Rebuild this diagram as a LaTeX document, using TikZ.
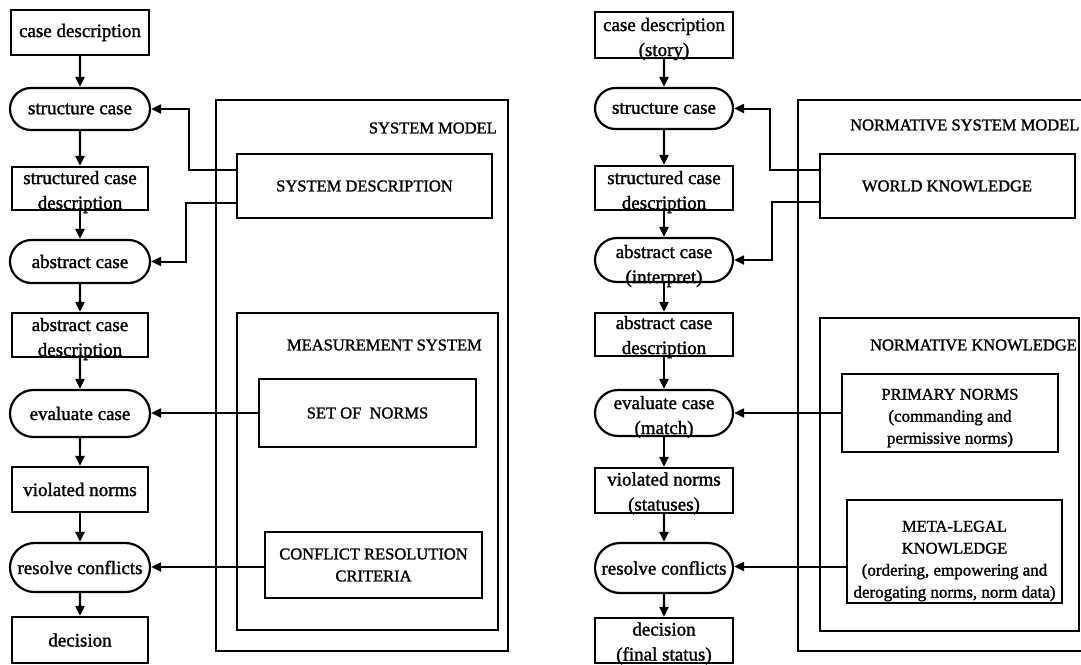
\documentclass[tikz,border=0pt]{standalone}
\usepackage{fontspec}
\setmainfont{Liberation Serif}[FakeBold=1.4]
\usetikzlibrary{shapes.misc,arrows.meta}
\tikzset{
  box/.style={draw,line width=2.2pt,rectangle,inner sep=0pt,align=center,font=\fontsize{19}{25}\selectfont},
  rbox/.style={draw,line width=2.2pt,rounded rectangle,inner sep=0pt,align=center,font=\fontsize{19}{25}\selectfont},
  ftxt/.style={inner sep=0pt,align=center,font=\fontsize{19}{25}\selectfont},
  kbox/.style={draw,line width=2pt,rectangle,inner sep=0pt,align=center,font=\fontsize{16.5}{22}\selectfont},
  frame/.style={draw,line width=1.8pt,rectangle,inner sep=0pt},
  title/.style={inner sep=0pt,font=\fontsize{16.5}{20}\selectfont},
  flow/.style={line width=2.2pt,-{Triangle[length=10pt,width=9pt]}},
  conn/.style={line width=2pt,-{Triangle[length=10pt,width=9pt]}},
}
\newcommand{\subfs}{\fontsize{17}{22}\selectfont}
\begin{document}
\begin{tikzpicture}[x=1pt,y=-1pt]
\useasboundingbox (0,0) rectangle (1081,664);
\clip (0,0) rectangle (1081,664);
% ---------------- left diagram ----------------
\node[box,minimum width=138pt,minimum height=45pt] (cd1) at (80,32.5) {case description};
\node[rbox,minimum width=140pt,minimum height=42pt] (sc1) at (80,109) {structure case};
\node[box,minimum width=136pt,minimum height=43pt] (scd1) at (80,188.5) {};
\node[ftxt] (scd1t) at ([yshift=-3.5pt]scd1.center) {structured case\\description};
\node[rbox,minimum width=140pt,minimum height=43pt] (ac1) at (80,261.5) {abstract case};
\node[box,minimum width=136pt,minimum height=44pt] (acd1) at (80,335) {};
\node[ftxt] (acd1t) at ([yshift=-4pt]acd1.center) {abstract case\\description};
\node[rbox,minimum width=140pt,minimum height=47pt] (ev1) at (80,413.5) {evaluate case};
\node[box,minimum width=136pt,minimum height=45pt] (vn1) at (80,489.5) {violated norms};
\node[rbox,minimum width=140pt,minimum height=49pt] (rc1) at (80,567.5) {resolve conflicts};
\node[box,minimum width=136pt,minimum height=46pt] (dec1) at (80,640) {decision};

\node[frame,minimum width=292pt,minimum height=551pt] (sm) at (362,375.5) {};
\node[title,anchor=east] (smt) at (497,128) {SYSTEM MODEL};
\node[kbox,minimum width=255pt,minimum height=64pt] (sd) at (364.5,186) {SYSTEM DESCRIPTION};
\node[frame,minimum width=261pt,minimum height=317pt] (ms) at (367.5,471.5) {};
\node[title,anchor=east] (mst) at (482,345) {MEASUREMENT SYSTEM};
\node[kbox,minimum width=217pt,minimum height=68pt] (sn) at (367.5,413) {SET OF\ \ NORMS};
\node[kbox,minimum width=217pt,minimum height=66pt] (crc) at (373.5,565) {CONFLICT RESOLUTION\\CRITERIA};

\draw[flow] (cd1) -- (sc1);
\draw[flow] (sc1) -- (scd1);
\draw[flow] (scd1) -- (ac1);
\draw[flow] (ac1) -- (acd1);
\draw[flow] (acd1) -- (ev1);
\draw[flow] (ev1) -- (vn1);
\draw[flow] (vn1) -- (rc1);
\draw[flow] (rc1) -- (dec1);

\draw[conn] ([yshift=16pt]sd.west) -- ++(-47,0) |- (sc1.east);
\draw[conn] ([yshift=-17pt]sd.west) -- ++(-50,0) |- (ac1.east);
\draw[conn] (sn.west) -- (sn.west -| ev1.east);
\draw[conn] ([yshift=-2pt]crc.west) -- ([yshift=-2pt]crc.west -| rc1.east);

% ---------------- right diagram ----------------
\node[box,minimum width=138pt,minimum height=46pt] (cd2) at (664,35) {};
\node[ftxt] (cd2t) at ([yshift=-4pt]cd2.center) {case description\\(story)};
\node[rbox,minimum width=138pt,minimum height=41pt] (sc2) at (664,108.5) {structure case};
\node[box,minimum width=138pt,minimum height=44pt] (scd2) at (664,188) {};
\node[ftxt] (scd2t) at ([yshift=-4pt]scd2.center) {structured case\\description};
\node[rbox,minimum width=138pt,minimum height=44pt] (ac2) at (664,260) {};
\node[ftxt] (ac2t) at ([yshift=-6pt]ac2.center) {abstract case\\(interpret)};
\node[box,minimum width=138pt,minimum height=43pt] (acd2) at (664,334.5) {};
\node[ftxt] (acd2t) at ([yshift=-2.5pt]acd2.center) {abstract case\\description};
\node[rbox,minimum width=138pt,minimum height=46pt] (ev2) at (664,413) {};
\node[ftxt] (ev2t) at ([yshift=-4pt]ev2.center) {evaluate case\\(match)};
\node[box,minimum width=138pt,minimum height=45pt] (vn2) at (664,490.5) {};
\node[ftxt] (vn2t) at ([yshift=-3pt]vn2.center) {violated norms\\(statuses)};
\node[rbox,minimum width=138pt,minimum height=50pt] (rc2) at (664,568) {resolve conflicts};
\node[box,minimum width=138pt,minimum height=45pt] (dec2) at (664,640.5) {};
\node[ftxt] (dec2t) at ([yshift=-3pt]dec2.center) {decision\\(final status)};

\node[frame,minimum width=287pt,minimum height=551pt] (nsm) at (941.5,375.5) {};
\node[title,anchor=west] (nsmt) at (850,125) {NORMATIVE SYSTEM MODEL};
\node[kbox,minimum width=255pt,minimum height=64pt] (wk) at (947,186) {WORLD KNOWLEDGE};
\node[frame,minimum width=259pt,minimum height=313pt] (nk) at (949.5,474.5) {};
\node[title,anchor=east] (nkt) at (1077,345) {NORMATIVE KNOWLEDGE};
\node[kbox,minimum width=216pt,minimum height=78pt] (pn) at (950,413) {\rule{0pt}{21pt}PRIMARY NORMS\\{\subfs (commanding and}\\{\subfs permissive norms)}};
\node[kbox,minimum width=215pt,minimum height=103pt] (ml) at (954.5,551.5) {\rule{0pt}{30pt}META-LEGAL\\KNOWLEDGE\\{\subfs (ordering, empowering and}\\{\subfs derogating norms, norm data)}};

\draw[flow] (cd2) -- (sc2);
\draw[flow] (sc2) -- (scd2);
\draw[flow] (scd2) -- (ac2);
\draw[flow] (ac2) -- (acd2);
\draw[flow] (acd2) -- (ev2);
\draw[flow] (ev2) -- (vn2);
\draw[flow] (vn2) -- (rc2);
\draw[flow] (rc2) -- (dec2);

\draw[conn] ([yshift=16pt]wk.west) -- ++(-49,0) |- (sc2.east);
\draw[conn] ([yshift=-16pt]wk.west) -- ++(-47,0) |- (ac2.east);
\draw[conn] (pn.west) -- (pn.west -| ev2.east);
\draw[conn] ([yshift=-15pt]ml.west) -- ([yshift=-15pt]ml.west -| rc2.east);
\end{tikzpicture}
\end{document}
